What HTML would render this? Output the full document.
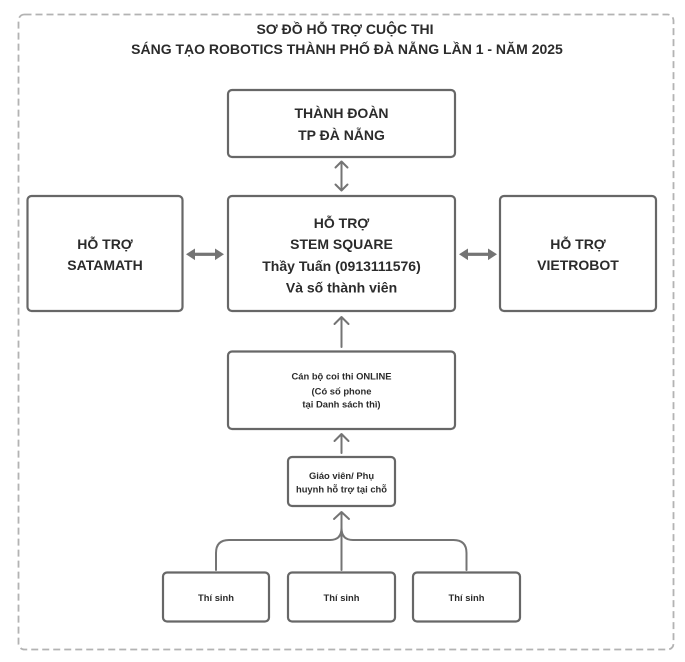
<!DOCTYPE html>
<html>
<head>
<meta charset="utf-8">
<style>
  html,body{margin:0;padding:0;background:#fff;}
  body{width:685px;height:662px;overflow:hidden;}
  svg{display:block;}
  text{font-family:"Liberation Sans","Noto Sans CJK SC",sans-serif;font-weight:bold;fill:#2b2b2b;text-anchor:middle;}
  .t{font-size:14px;}
  .s{font-size:9.4px;}
  .box{fill:#fff;stroke:#676767;stroke-width:2.2;}
  .ln{fill:none;stroke:#747474;stroke-width:2;stroke-linecap:round;stroke-linejoin:round;}
</style>
</head>
<body>
<svg width="685" height="662" viewBox="0 0 685 662" xmlns="http://www.w3.org/2000/svg">
  <!-- outer dashed border -->
  <rect x="18.5" y="14.5" width="655" height="635" rx="6" ry="6" fill="none" stroke="#b3b3b3" stroke-width="1.8" stroke-dasharray="7 4"/>

  <!-- title -->
  <text class="t" x="345" y="34">SƠ ĐỒ HỖ TRỢ CUỘC THI</text>
  <text class="t" x="347" y="54">SÁNG TẠO ROBOTICS THÀNH PHỐ ĐÀ NẴNG LẦN 1 - NĂM 2025</text>

  <!-- top box -->
  <rect class="box" x="228" y="90" width="227" height="67" rx="4"/>
  <text class="t" x="341.5" y="118">THÀNH ĐOÀN</text>
  <text class="t" x="341.5" y="140">TP ĐÀ NẴNG</text>

  <!-- vertical double arrow -->
  <path class="ln" stroke-width="1.7" d="M341.5,161.5 V190.5 M335.5,167.5 L341.5,161.5 L347.5,167.5 M335.5,184.5 L341.5,190.5 L347.5,184.5"/>

  <!-- middle row -->
  <rect class="box" x="27.5" y="196" width="155" height="115" rx="4"/>
  <text class="t" x="105" y="249">HỖ TRỢ</text>
  <text class="t" x="105" y="270">SATAMATH</text>

  <rect class="box" x="228" y="196" width="227" height="115" rx="4"/>
  <text class="t" x="341.5" y="228">HỖ TRỢ</text>
  <text class="t" x="341.5" y="249">STEM SQUARE</text>
  <text class="t" x="341.5" y="271">Thầy Tuấn (0913111576)</text>
  <text class="t" x="341.5" y="292.5">Và số thành viên</text>

  <rect class="box" x="500" y="196" width="156" height="115" rx="4"/>
  <text class="t" x="578" y="249">HỖ TRỢ</text>
  <text class="t" x="578" y="270">VIETROBOT</text>

  <!-- horizontal thick arrows -->
  <g fill="#747474" stroke="none">
    <rect x="192" y="252.7" width="26" height="3.2"/>
    <polygon points="186,254.3 195,248.5 195,260.1"/>
    <polygon points="224,254.3 215,248.5 215,260.1"/>
    <rect x="465" y="252.7" width="26" height="3.2"/>
    <polygon points="459,254.3 468,248.5 468,260.1"/>
    <polygon points="497,254.3 488,248.5 488,260.1"/>
  </g>

  <!-- arrow up to center -->
  <path class="ln" d="M341.5,347 V317 M334.5,324 L341.5,317 L348.5,324"/>

  <!-- Cán bộ box -->
  <rect class="box" x="228" y="351.5" width="227" height="77.5" rx="4"/>
  <text class="s" x="341.5" y="379.5">Cán bộ coi thi ONLINE</text>
  <text class="s" x="341.5" y="394.5">(Có số phone</text>
  <text class="s" x="341.5" y="407.5">tại Danh sách thì)</text>

  <!-- arrow up -->
  <path class="ln" d="M341.5,453 V434 M334.5,441 L341.5,434 L348.5,441"/>

  <!-- Giáo viên box -->
  <rect class="box" x="288" y="457" width="107" height="49" rx="4"/>
  <text class="s" x="341.5" y="479">Giáo viên/ Phụ</text>
  <text class="s" x="341.5" y="492.5">huynh hỗ trợ tại chỗ</text>

  <!-- bottom connectors -->
  <path class="ln" d="M341.5,570 V512 M334,519 L341.5,512 L349,519"/>
  <path class="ln" d="M216,570 V553 Q216,540 229,540 H330 Q341.5,540 341.5,528"/>
  <path class="ln" d="M466.5,570 V553 Q466.5,540 453.5,540 H353 Q341.5,540 341.5,528"/>

  <!-- Thí sinh boxes -->
  <rect class="box" x="163" y="572.5" width="106" height="49" rx="4"/>
  <text class="s" x="216" y="601">Thí sinh</text>
  <rect class="box" x="288" y="572.5" width="107" height="49" rx="4"/>
  <text class="s" x="341.5" y="601">Thí sinh</text>
  <rect class="box" x="413" y="572.5" width="107" height="49" rx="4"/>
  <text class="s" x="466.5" y="601">Thí sinh</text>
</svg>
</body>
</html>
